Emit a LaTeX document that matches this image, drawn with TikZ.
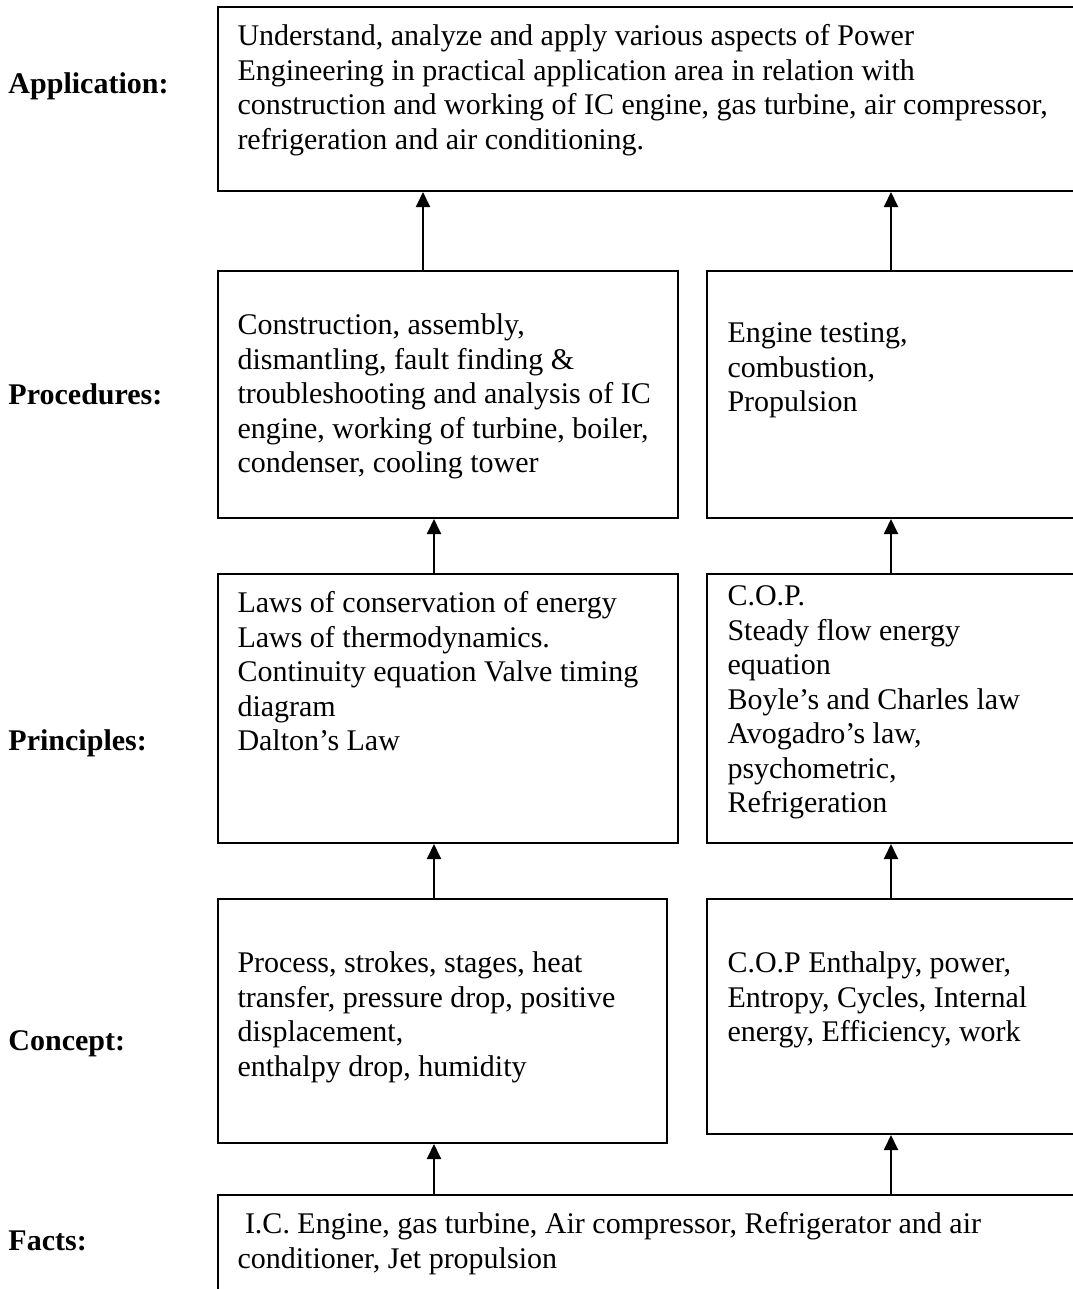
\documentclass[tikz,border=0pt]{standalone}
\usepackage{fontspec}
\setmainfont{Liberation Serif}
\usetikzlibrary{arrows.meta,fit}
\tikzset{
>={Triangle[length=6pt,width=5.6pt]},
  blockbox/.style={
    rectangle,
    draw=black, line width=0.8pt,
    inner sep=0pt},
  blocktext/.style={
    anchor=north west,
    inner sep=0pt,
    align=left,
    font=\fontsize{12}{13.8}\selectfont},
  levellabel/.style={
    anchor=base west,
    inner sep=0pt,
    font=\fontsize{12}{13.8}\selectfont\bfseries},
  uparrow/.style={draw, line width=0.8pt, ->},
}

\begin{document}
\begin{tikzpicture}[x=0.4pt, y=-0.4pt]
     \useasboundingbox (0,0) rectangle (1073,1289);
     \clip (0,0) rectangle (1073,1289);
     % level names
     \node[levellabel] (LabApp)   at (8,93)   {Application:};
     \node[levellabel] (LabProc)  at (8,404)  {Procedures:};
     \node[levellabel] (LabPrin)  at (8,750)  {Principles:};
     \node[levellabel] (LabConc)  at (8,1050) {Concept:};
     \node[levellabel] (LabFacts) at (8,1250) {Facts:};
     % boxes
     \node[blockbox, fit={(218,7) (1100,191)}]     (AppBox)   {};
     \node[blockbox, fit={(218,271) (678,518)}]    (ProcLeft)  {};
     \node[blockbox, fit={(707,271) (1100,518)}]   (ProcRight) {};
     \node[blockbox, fit={(218,574) (678,843)}]    (PrinLeft)  {};
     \node[blockbox, fit={(707,574) (1100,843)}]   (PrinRight) {};
     \node[blockbox, fit={(218,899) (667,1143)}]   (ConcLeft)  {};
     \node[blockbox, fit={(707,899) (1100,1134)}]  (ConcRight) {};
     \node[blockbox, fit={(218,1195) (1100,1320)}] (FactsBox)  {};
     % texts
     \node[blocktext] (AppText) at (237,21) {\strut Understand, analyze and apply various aspects of Power\\Engineering in practical application area in relation with\\construction and working of IC engine, gas turbine, air compressor,\\refrigeration and air conditioning.};
     \node[blocktext] (ProcLeftText) at (237,310) {\strut Construction, assembly,\\dismantling, fault finding \&\\troubleshooting and analysis of IC\\engine, working of turbine, boiler,\\condenser, cooling tower};
     \node[blocktext] (ProcRightText) at (727,318) {\strut Engine testing,\\combustion,\\Propulsion};
     \node[blocktext] (PrinLeftText) at (237,588) {\strut Laws of conservation of energy\\Laws of thermodynamics.\\Continuity equation Valve timing\\diagram\\Dalton’s Law};
     \node[blocktext] (PrinRightText) at (727,581) {\strut C.O.P.\\Steady flow energy\\equation\\Boyle’s and Charles law\\Avogadro’s law,\\psychometric,\\Refrigeration};
     \node[blocktext] (ConcLeftText) at (237,948) {\strut Process, strokes, stages, heat\\transfer, pressure drop, positive\\displacement,\\enthalpy drop, humidity};
     \node[blocktext] (ConcRightText) at (727,948) {\strut C.O.P Enthalpy, power,\\Entropy, Cycles, Internal\\energy, Efficiency, work};
     \node[blocktext] (FactsText) at (237,1209) {\strut\hspace{3pt}I.C. Engine, gas turbine, Air compressor, Refrigerator and air\\conditioner, Jet propulsion};
     % arrows
     \draw[uparrow] (ProcLeft.north -| 423,0)  -- (AppBox.south -| 423,0);
     \draw[uparrow] (ProcRight.north -| 891,0) -- (AppBox.south -| 891,0);
     \draw[uparrow] (PrinLeft.north -| 434,0)  -- (ProcLeft.south -| 434,0);
     \draw[uparrow] (PrinRight.north -| 891,0) -- (ProcRight.south -| 891,0);
     \draw[uparrow] (ConcLeft.north -| 434,0)  -- (PrinLeft.south -| 434,0);
     \draw[uparrow] (ConcRight.north -| 891,0) -- (PrinRight.south -| 891,0);
     \draw[uparrow] (FactsBox.north -| 434,0)  -- (ConcLeft.south -| 434,0);
     \draw[uparrow] (FactsBox.north -| 891,0)  -- (ConcRight.south -| 891,0);
\end{tikzpicture}
\end{document}
